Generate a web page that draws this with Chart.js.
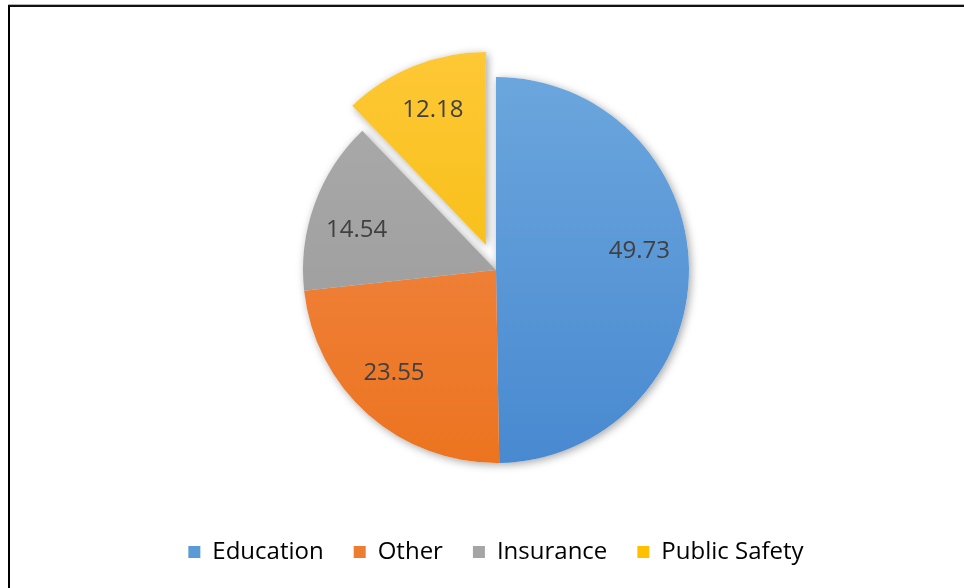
<!DOCTYPE html>
<html>
<head>
<meta charset="utf-8">
<script src="https://cdn.jsdelivr.net/npm/chart.js@4.4.1/dist/chart.umd.min.js"></script>
<style>
    html, body { margin: 0; padding: 0; background: #fff; }
    #wrap { position: relative; width: 964px; height: 588px; }
    #frame {
        position: absolute; left: 8px; top: 5px; width: 970px; height: 581px;
        border-left: 2px solid #000; border-top: 2px solid #111;
        border-bottom: 1px solid #aaa;
        box-shadow: 0 -1px 0 #b5b5b5;
        pointer-events: none;
    }
</style>
</head>
<body>
<div id="wrap">
    <canvas id="sectorChart" width="964" height="588"></canvas>
    <div id="frame"></div>
</div>
<script>
    // sectors and their shares
    const sectors = ['Education', 'Other', 'Insurance', 'Public Safety'];
    const shares = [49.73, 23.55, 14.54, 12.18];

    // how far each slice is pulled out of the pie, px
    const explodePx = [0, 0, 0, 27];

    // top / bottom shades for each slice
    const shadeTop = ['#6ea8de', '#f28c4f', '#acacac', '#ffc93a'];
    const shadeBottom = ['#4889d0', '#ec7420', '#989898', '#f2b900'];
    const legendColors = ['#5b9bd5', '#ed7d31', '#a5a5a5', '#ffc000'];

    // where each value sits inside its slice (fraction of the sweep, fraction of radius)
    const labelSweep = [0.46, 0.54, 0.42, 0.51];
    const labelRadius = 0.75;

    const pieRadius = 193;

    function sliceFill(context) {
        const chart = context.chart;
        const area = chart.chartArea;
        if (!area) return legendColors[context.dataIndex];
        const cy = (area.top + area.bottom) / 2;
        const g = chart.ctx.createLinearGradient(0, cy - pieRadius - 30, 0, cy + pieRadius);
        g.addColorStop(0, shadeTop[context.dataIndex]);
        g.addColorStop(1, shadeBottom[context.dataIndex]);
        return g;
    }

    function arcGeometry(el, i) {
        const p = el.getProps(['x', 'y', 'startAngle', 'endAngle', 'outerRadius'], true);
        const mid = (p.startAngle + p.endAngle) / 2;
        const off = explodePx[i] || 0;
        return {
            cx: p.x + Math.cos(mid) * off,
            cy: p.y + Math.sin(mid) * off,
            start: p.startAngle, end: p.endAngle, r: p.outerRadius
        };
    }

    // pull slices out without growing their radius (the built-in offset does)
    const pieExplode = {
        id: 'pieExplode',
        afterUpdate(chart) {
            chart.getDatasetMeta(0).data.forEach((el, i) => {
                const d = explodePx[i];
                if (!d || el._pulled) return;
                const baseDraw = el.draw;
                el.draw = function (ctx) {
                    const mid = (this.startAngle + this.endAngle) / 2;
                    ctx.save();
                    ctx.translate(Math.cos(mid) * d, Math.sin(mid) * d);
                    baseDraw.call(this, ctx);
                    ctx.restore();
                };
                el._pulled = true;
            });
        }
    };

    // soft drop shadow under the slices
    const pieShadow = {
        id: 'pieShadow',
        beforeDatasetsDraw(chart) {
            const ctx = chart.ctx;
            chart.getDatasetMeta(0).data.forEach((el, i) => {
                const a = arcGeometry(el, i);
                ctx.save();
                ctx.shadowColor = 'rgba(0,0,0,0.35)';
                ctx.shadowBlur = 9;
                ctx.shadowOffsetX = 2;
                ctx.shadowOffsetY = 2;
                ctx.fillStyle = '#fff';
                ctx.beginPath();
                ctx.moveTo(a.cx, a.cy);
                ctx.arc(a.cx, a.cy, a.r, a.start, a.end);
                ctx.closePath();
                ctx.fill();
                ctx.restore();
            });
        }
    };

    // value labels inside the slices
    const sliceLabels = {
        id: 'sliceLabels',
        afterDatasetsDraw(chart) {
            const ctx = chart.ctx;
            const values = chart.data.datasets[0].data;
            chart.getDatasetMeta(0).data.forEach((el, i) => {
                const a = arcGeometry(el, i);
                const ang = a.start + (a.end - a.start) * labelSweep[i];
                const x = a.cx + Math.cos(ang) * a.r * labelRadius;
                const y = a.cy + Math.sin(ang) * a.r * labelRadius;
                ctx.save();
                ctx.font = '24px "Open Sans"';
                ctx.fillStyle = '#404040';
                ctx.textAlign = 'center';
                ctx.textBaseline = 'middle';
                ctx.fillText(values[i].toFixed(2), x, y);
                ctx.restore();
            });
        }
    };

    new Chart(document.getElementById('sectorChart'), {
        type: 'pie',
        data: {
            labels: sectors,
            datasets: [{
                data: shares,
                backgroundColor: sliceFill,
                borderWidth: 0
            }]
        },
        options: {
            responsive: false,
            animation: false,
            radius: pieRadius,
            layout: { padding: { top: 30, bottom: 14, left: 28, right: 0 } },
            plugins: {
                legend: {
                    position: 'bottom',
                    labels: {
                        boxWidth: 12,
                        boxHeight: 12,
                        padding: 30,
                        color: '#595959',
                        font: { family: 'Open Sans', size: 24 },
                        generateLabels(chart) {
                            return sectors.map((name, i) => ({
                                text: name,
                                fillStyle: legendColors[i],
                                strokeStyle: legendColors[i],
                                lineWidth: 0,
                                index: i
                            }));
                        }
                    }
                },
                tooltip: { enabled: false }
            }
        },
        plugins: [pieExplode, pieShadow, sliceLabels]
    });
</script>
</body>
</html>
